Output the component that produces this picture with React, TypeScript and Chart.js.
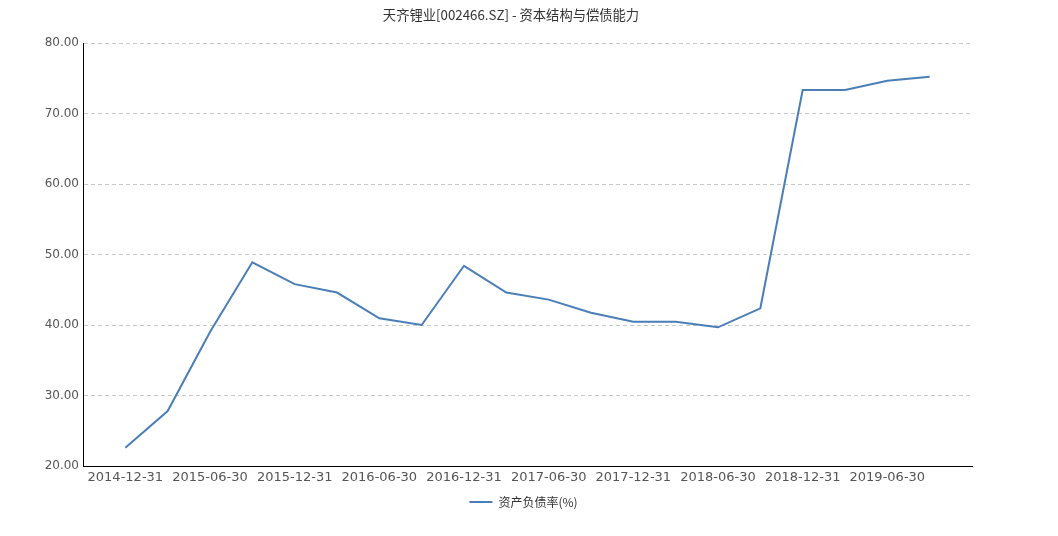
import React, { useEffect, useRef } from 'react';
import { Chart, registerables } from 'chart.js';

Chart.register(...registerables);

const TITLE = '天齐锂业[002466.SZ] - 资本结构与偿债能力';
const SERIES_NAME = '资产负债率(%)';

const reportDates = [
  '2014-12-31', '2015-03-31', '2015-06-30', '2015-09-30',
  '2015-12-31', '2016-03-31', '2016-06-30', '2016-09-30',
  '2016-12-31', '2017-03-31', '2017-06-30', '2017-09-30',
  '2017-12-31', '2018-03-31', '2018-06-30', '2018-09-30',
  '2018-12-31', '2019-03-31', '2019-06-30', '2019-09-30',
];

const debtRatio = [
  22.6, 27.8, 39.0, 48.9,
  45.8, 44.6, 40.95, 40.0,
  48.4, 44.6, 43.6, 41.75,
  40.47, 40.47, 39.67, 42.37,
  73.33, 73.33, 74.65, 75.2,
];

const yMin = 20;
const yMax = 80;
const yStep = 10;

export default function App() {
  const ref = useRef<HTMLCanvasElement>(null);

  useEffect(() => {
    if (!ref.current) return;
    const labels = ['', ...reportDates, ''];
    const data = [null, ...debtRatio, null];

    const titlePlugin = {
      id: 'customTitle',
      afterDraw(chart: any) {
        const ctx = chart.ctx;
        ctx.save();
        ctx.font = '13.3px "Noto Sans CJK SC"';
        ctx.fillStyle = '#333';
        ctx.textAlign = 'center';
        ctx.textBaseline = 'middle';
        ctx.fillText(TITLE, 511, 15);
        ctx.restore();
      },
    };

    const chart = new Chart(ref.current, {
      type: 'line',
      data: {
        labels,
        datasets: [
          {
            label: SERIES_NAME,
            data,
            borderColor: '#4a7eb8',
            backgroundColor: '#4a7eb8',
            borderWidth: 2,
            pointRadius: 0,
            pointHoverRadius: 0,
            tension: 0,
            fill: false,
            spanGaps: false,
          },
        ],
      },
      options: {
        animation: false,
        responsive: true,
        maintainAspectRatio: false,
        layout: { padding: { top: 43, left: 0, right: 11, bottom: 18 } },
        plugins: {
          title: { display: false },
          tooltip: { enabled: false },
          legend: {
            display: true,
            position: 'bottom',
            labels: {
              usePointStyle: true,
              pointStyle: 'line',
              pointStyleWidth: 23,
              padding: 10,
              color: '#333',
              font: { family: '"Noto Sans CJK SC"', size: 12 },
            },
          },
        },
        scales: {
          x: {
            type: 'category',
            offset: false,
            grid: { display: false, drawTicks: false },
            border: { display: true, color: '#000', width: 1 },
            ticks: {
              autoSkip: false,
              maxRotation: 0,
              minRotation: 0,
              padding: 4,
              color: '#555',
              font: { family: '"DejaVu Sans"', size: 13 },
              callback: (_v: any, i: number) => (i % 2 === 1 ? labels[i] : ''),
            },
            afterFit: (s: any) => {
              s.height = 20;
            },
          },
          y: {
            type: 'linear',
            position: 'left',
            min: yMin,
            max: yMax,
            grid: { display: true, color: '#c8c8c8', drawTicks: false, lineWidth: 1 },
            border: { display: true, color: '#000', width: 1, dash: [4, 3] },
            ticks: {
              stepSize: yStep,
              padding: 4,
              color: '#555',
              font: { family: '"DejaVu Sans"', size: 12 },
              callback: (v: any) => Number(v).toFixed(2),
            },
            afterFit: (s: any) => {
              s.width = 83;
            },
          },
          yRight: {
            type: 'linear',
            position: 'right',
            display: true,
            min: yMin,
            max: yMax,
            grid: { display: false, drawTicks: false },
            border: { display: false },
            ticks: { display: false },
            afterFit: (s: any) => {
              s.width = 75;
            },
          },
        },
      },
      plugins: [titlePlugin],
    });

    return () => chart.destroy();
  }, []);

  return (
    <div style={{ position: 'fixed', left: 0, top: 0, width: 1058, height: 536, background: '#fff' }}>
      <canvas ref={ref} />
    </div>
  );
}
